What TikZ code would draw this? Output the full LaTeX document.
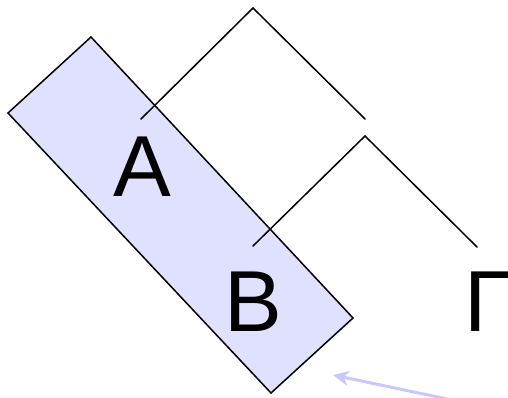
\documentclass[tikz,border=0pt]{standalone}
\usepackage{fontspec}
\setmainfont{Liberation Sans}
\usetikzlibrary{arrows.meta}
\definecolor{cladefill}{RGB}{224,224,255}
\definecolor{arrowcol}{RGB}{200,200,255}
\begin{document}
\begin{tikzpicture}[x=1pt,y=-1pt,
  taxon/.style={anchor=base west,inner sep=0pt,font=\fontsize{86.6}{90}\selectfont},
  branch/.style={draw=black,line width=1.5pt,line cap=round,line join=miter},
  clade/.style={draw=black,fill=cladefill,line width=1.5pt,line join=miter},
  pointer/.style={draw=arrowcol,line width=3pt,-{Stealth[length=16pt,width=15pt]}}]
\useasboundingbox (0,0) rectangle (508,398);
\clip (0,0) rectangle (508,398);
% shaded clade
\path[clade] (91,37) -- (8,113) -- (271,393) -- (353,318) -- cycle;
% tree coordinates
\coordinate (a1) at (141,119);
\coordinate (r1) at (253,8);
\coordinate (e1) at (365,119);
\coordinate (b1) at (253,246);
\coordinate (r2) at (365,136);
\coordinate (g1) at (477,247);
\draw[branch] (a1) -- (r1) -- (e1);
\draw[branch] (b1) -- (r2) -- (g1);
% labels
\node[taxon] (A) at (113,196) {A};
\node[taxon] (B) at (224,331) {B};
\node[taxon] (G) at (464,331) {Γ};
% pointer arrow
\coordinate (p0) at (452,400);
\coordinate (p1) at (333,375);
\draw[pointer] (p0) -- (p1);
\end{tikzpicture}
\end{document}
